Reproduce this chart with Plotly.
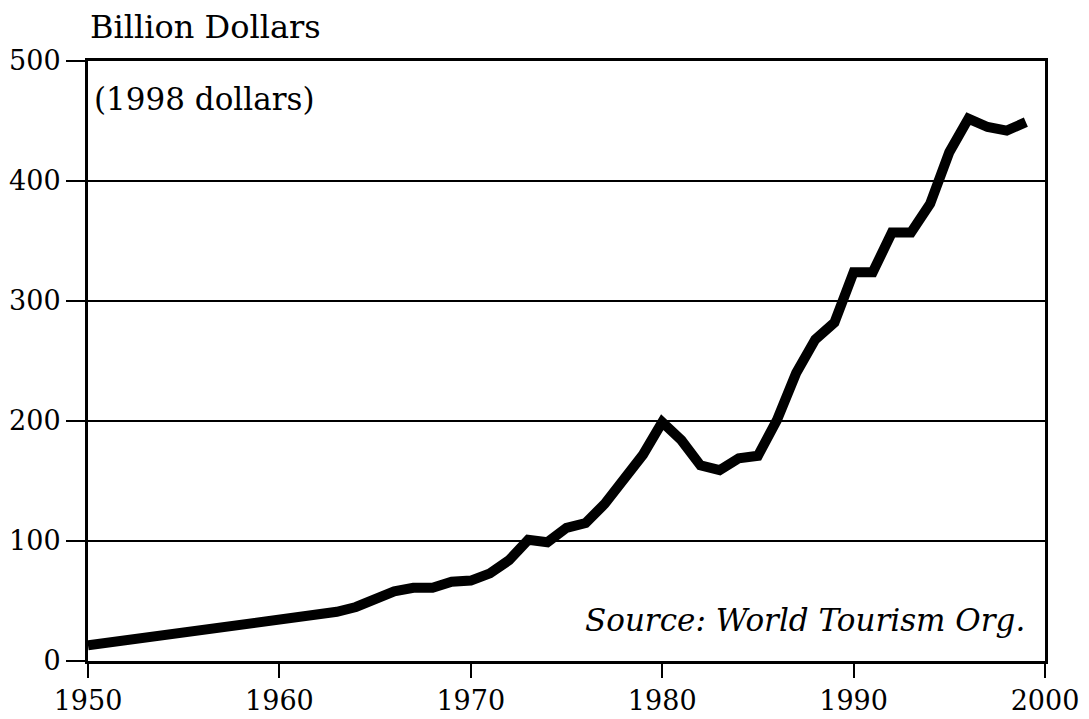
import plotly.graph_objects as go

years = list(range(1950, 2000))
spending = [13, 15, 17, 19, 21, 24, 25, 27, 29, 31,
            33, 35, 37, 41, 45, 52, 58, 61, 61, 66,
            67, 73, 84, 101, 99, 111, 115, 131, 153, 172,
            199, 184, 163, 159, 169, 171, 201, 240, 268, 282,
            324, 324, 357, 357, 381, 424, 452, 445, 442, 449]

x_ticks = [1950, 1960, 1970, 1980, 1990, 2000]
y_ticks = [0, 100, 200, 300, 400, 500]

FONT = "DejaVu Serif"

fig = go.Figure()
fig.add_trace(go.Scatter(
    x=years, y=spending, mode="lines",
    line=dict(color="black", width=10),
    showlegend=False, hoverinfo="skip",
))

fig.update_layout(
    width=1081, height=711,
    margin=dict(l=80, r=44, t=53, b=58),
    paper_bgcolor="white", plot_bgcolor="white",
    font=dict(family=FONT, size=27, color="black"),
    xaxis=dict(
        range=[1950, 2000], tickvals=x_ticks, ticks="outside", ticklen=14,
        tickwidth=2, tickcolor="black", showgrid=False, zeroline=False,
        showline=True, linecolor="black", linewidth=3, mirror=True,
        automargin=False, tickfont=dict(family=FONT, size=27),
    ),
    yaxis=dict(
        range=[0, 500], tickvals=y_ticks, ticks="outside", ticklen=19,
        tickwidth=2, tickcolor="black", showgrid=True, gridcolor="black",
        gridwidth=2, zeroline=False, showline=True, linecolor="black",
        linewidth=3, mirror=True, automargin=False,
        tickfont=dict(family=FONT, size=27),
    ),
    annotations=[
        dict(text="Billion Dollars", xref="paper", yref="paper", x=0, y=1,
             xanchor="left", yanchor="bottom", yshift=13, showarrow=False,
             font=dict(family=FONT, size=32)),
        dict(text="(1998 dollars)", xref="paper", yref="paper", x=0, y=1,
             xanchor="left", yanchor="top", xshift=4, yshift=-18, showarrow=False,
             font=dict(family=FONT, size=31)),
        dict(text="<i>Source: World Tourism Org.</i>", xref="paper", yref="paper",
             x=1, y=0, xanchor="right", yanchor="bottom", xshift=-18, yshift=21,
             showarrow=False, font=dict(family=FONT, size=31)),
    ],
)

fig.write_html("out.html")
